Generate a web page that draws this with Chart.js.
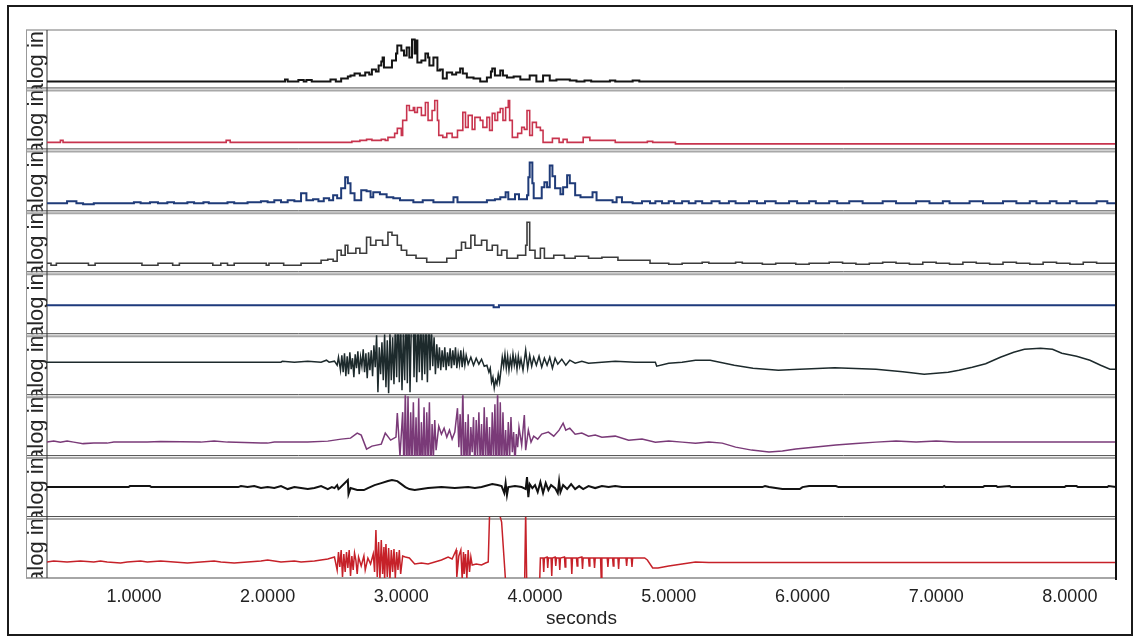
<!DOCTYPE html>
<html>
<head>
<meta charset="utf-8">
<script src="https://cdn.jsdelivr.net/npm/chart.js@4.4.1/dist/chart.umd.min.js"></script>
<style>
  html, body { margin: 0; padding: 0; background: #fff; }
  #wrap { position: relative; width: 1140px; height: 642px; }
  #frame { position: absolute; left: 7px; top: 5px; width: 1126px; height: 631px; box-sizing: border-box; border: 2px solid #1b1b1b; }
  canvas { position: absolute; left: 0; top: 0; }
</style>
</head>
<body>
<div id="wrap">
  <div id="frame"></div>
  <canvas id="traces" width="1140" height="642"></canvas>
</div>
<script>
// time axis
const timeRange = [0.35, 8.345]
const secondTicks = [1, 2, 3, 4, 5, 6, 7, 8]
const channelLabel = 'alog in'

// each channel: [seconds, amplitude above its own baseline]
const trace1 = [[0.35,0],[2.13,2],[2.15,0],[2.23,1.5],[2.27,0],[2.29,1.5],[2.33,0],[2.47,2],[2.51,0],[2.55,3],[2.6,5],[2.62,6],[2.65,8],[2.69,6],[2.73,9],[2.76,7],[2.78,12],[2.81,10],[2.83,16],[2.85,20],[2.86,24],[2.87,14],[2.9,14],[2.93,21],[2.96,28],[2.97,36],[3.0,31],[3.02,26],[3.04,34],[3.06,24],[3.08,42],[3.1,28],[3.11,41],[3.12,19],[3.15,21],[3.18,28],[3.2,24],[3.21,16],[3.24,24],[3.27,11],[3.29,12],[3.31,3],[3.34,9],[3.38,7],[3.41,9],[3.44,13],[3.46,8],[3.49,4],[3.54,3],[3.59,0],[3.64,4],[3.67,10],[3.68,13],[3.7,6],[3.74,11],[3.76,6],[3.79,4],[3.84,5],[3.89,2],[3.96,6],[4.01,0],[4.06,6],[4.11,1],[4.16,2],[4.21,2],[4.26,1],[4.31,0],[4.37,1],[4.42,0],[4.56,1],[4.6,0],[4.73,1],[4.78,0],[8.345,0]]

const trace2 = [[0.35,0],[0.45,2],[0.47,0],[1.69,2],[1.72,0],[2.63,1],[2.69,2],[2.74,3],[2.78,2],[2.85,3],[2.88,2],[2.9,5],[2.95,9],[2.97,14],[3.0,7],[3.01,22],[3.04,37],[3.06,32],[3.09,35],[3.1,30],[3.12,35],[3.15,27],[3.18,40],[3.2,22],[3.23,32],[3.25,42],[3.27,22],[3.28,7],[3.31,5],[3.34,9],[3.38,5],[3.42,12],[3.46,30],[3.48,15],[3.5,27],[3.53,13],[3.55,25],[3.59,22],[3.61,15],[3.64,25],[3.66,12],[3.68,29],[3.7,22],[3.72,30],[3.74,34],[3.76,22],[3.78,35],[3.8,42],[3.81,22],[3.83,5],[3.87,9],[3.9,15],[3.92,13],[3.94,32],[3.96,7],[3.98,20],[4.01,15],[4.04,12],[4.06,0],[4.13,4],[4.18,0],[4.21,3],[4.24,0],[4.36,5],[4.41,2],[4.6,0],[4.84,1],[4.88,0],[5.05,-1.5],[8.345,-1.5]]

const trace3 = [[0.35,0],[0.5,2],[0.57,0],[0.62,-1],[0.7,0],[1.0,1],[1.05,0],[1.12,1],[1.18,0],[1.25,1],[1.3,0],[1.4,1],[1.45,0],[1.52,1],[1.56,0],[1.7,1],[1.75,0],[1.85,1],[1.95,2],[2.0,1],[2.05,3],[2.1,1],[2.15,3],[2.2,2],[2.25,10],[2.29,3],[2.34,4],[2.38,2],[2.42,5],[2.46,3],[2.49,8],[2.52,5],[2.55,15],[2.58,26],[2.6,20],[2.62,10],[2.65,3],[2.7,13],[2.74,12],[2.77,6],[2.79,11],[2.84,9],[2.89,6],[2.94,5],[2.99,3],[3.09,1],[3.16,3],[3.24,1],[3.39,6],[3.42,1],[3.55,1],[3.64,3],[3.7,4],[3.74,6],[3.78,11],[3.8,4],[3.85,9],[3.88,4],[3.94,8],[3.95,26],[3.96,41],[3.98,20],[3.99,5],[4.05,16],[4.07,21],[4.09,16],[4.11,38],[4.13,27],[4.15,15],[4.19,9],[4.21,16],[4.24,28],[4.26,20],[4.3,8],[4.34,6],[4.41,6],[4.43,11],[4.46,3],[4.58,1],[4.61,6],[4.65,1],[4.73,0],[4.8,2],[4.86,0],[4.9,2],[4.95,0],[5.0,2],[5.04,0],[5.1,2],[5.15,0],[5.2,2],[5.25,0],[5.32,2],[5.38,0],[5.45,2],[5.5,0],[5.6,2],[5.66,0],[5.72,2],[5.8,0],[5.9,2],[5.96,0],[6.05,2],[6.1,0],[6.2,2],[6.26,0],[6.35,2],[6.45,0],[6.6,2],[6.7,0],[6.85,2],[6.95,0],[7.05,2],[7.1,0],[7.25,2],[7.35,0],[7.5,2],[7.6,0],[7.7,2],[7.75,0],[7.85,2],[7.9,0],[8.0,2],[8.05,0],[8.2,2],[8.28,0],[8.345,0]]

const trace4 = [[0.35,0],[0.38,-2],[0.42,0],[0.66,-2],[0.71,0],[1.06,-2],[1.18,0],[1.29,-2],[1.34,0],[1.59,-2],[1.65,0],[1.7,-2],[1.75,0],[1.99,-2],[2.01,0],[2.12,-2],[2.25,0],[2.4,3],[2.45,4],[2.49,2],[2.52,13],[2.55,8],[2.58,18],[2.6,10],[2.66,15],[2.69,10],[2.74,26],[2.77,18],[2.81,23],[2.86,18],[2.9,31],[2.93,28],[2.97,18],[3.0,13],[3.04,8],[3.11,5],[3.19,1],[3.34,5],[3.41,13],[3.45,21],[3.48,15],[3.52,28],[3.55,18],[3.6,23],[3.64,13],[3.68,18],[3.72,8],[3.75,13],[3.79,5],[3.87,8],[3.93,18],[3.94,41],[3.96,13],[4.0,5],[4.04,15],[4.07,5],[4.14,8],[4.22,5],[4.3,7],[4.4,5],[4.5,6],[4.62,3],[4.86,0],[5.0,-1],[5.1,0],[5.25,1],[5.3,0],[5.5,1],[5.55,0],[5.7,-1],[5.8,0],[5.95,-1],[6.05,0],[6.2,1],[6.3,0],[6.4,-1],[6.5,0],[6.6,1],[6.7,0],[6.8,-1],[6.9,1],[7.0,0],[7.1,-1],[7.2,1],[7.3,0],[7.4,-1],[7.5,1],[7.6,0],[7.7,-1],[7.8,1],[7.9,0],[8.0,-1],[8.1,1],[8.2,0],[8.345,0]]

const trace5 = [[0.35,0],[3.69,-2],[3.73,0],[8.345,0]]

const trace6 = [[0.35,0],[2.1,0],[2.11,1],[2.2,0],[2.3,1],[2.4,0],[2.44,2],[2.46,0],[2.5,1],[2.52,-3],[2.53,5],[2.545,-8],[2.555,7],[2.565,-10],[2.575,9],[2.585,-14],[2.595,6],[2.605,-12],[2.615,10],[2.625,-7],[2.635,4],[2.645,-15],[2.655,8],[2.665,-6],[2.675,11],[2.685,-12],[2.695,5],[2.705,-4],[2.715,13],[2.725,-10],[2.735,9],[2.745,-16],[2.755,10],[2.765,-8],[2.775,12],[2.785,-14],[2.795,17],[2.805,-5],[2.815,27],[2.825,-30],[2.835,15],[2.845,-12],[2.855,20],[2.865,-18],[2.875,28],[2.885,-25],[2.895,22],[2.905,-31],[2.915,29],[2.925,-18],[2.935,25],[2.945,-22],[2.955,35],[2.965,-15],[2.975,55],[2.985,-20],[2.995,42],[3.005,-28],[3.015,30],[3.025,-18],[3.035,57],[3.045,-21],[3.055,64],[3.065,-30],[3.075,40],[3.085,77],[3.095,-15],[3.105,49],[3.115,-20],[3.125,38],[3.135,-10],[3.145,50],[3.155,-18],[3.165,44],[3.175,-12],[3.185,40],[3.195,-20],[3.205,50],[3.215,-8],[3.225,35],[3.235,-4],[3.245,25],[3.255,-12],[3.265,18],[3.275,-6],[3.285,15],[3.295,-8],[3.305,12],[3.315,-5],[3.325,15],[3.335,-8],[3.345,10],[3.355,-4],[3.365,14],[3.375,-6],[3.385,12],[3.395,-3],[3.405,15],[3.415,-6],[3.425,8],[3.435,-2],[3.445,12],[3.455,-5],[3.465,9],[3.475,-3],[3.485,7],[3.5,-2],[3.52,5],[3.54,-3],[3.56,4],[3.58,-2],[3.6,3],[3.62,-4],[3.64,-3],[3.655,-10],[3.665,-6],[3.675,-20],[3.685,-15],[3.695,-26],[3.705,-18],[3.715,-22],[3.725,-12],[3.735,-20],[3.745,-8],[3.755,5],[3.765,-4],[3.775,8],[3.785,-6],[3.795,6],[3.805,-8],[3.815,4],[3.825,-5],[3.835,8],[3.845,-3],[3.855,5],[3.865,-7],[3.875,6],[3.885,-4],[3.895,3],[3.91,-8],[3.93,12],[3.945,-6],[3.96,7],[3.975,-4],[3.99,5],[4.01,-3],[4.03,6],[4.05,-5],[4.07,4],[4.09,-3],[4.11,5],[4.13,-6],[4.15,4],[4.17,-2],[4.2,3],[4.23,-3],[4.26,2],[4.3,-1],[4.35,1],[4.4,-1],[4.5,0],[4.6,1],[4.75,0],[4.9,0],[4.91,-4],[5.0,-1],[5.1,0],[5.2,2],[5.31,2],[5.49,-3],[5.63,-6],[5.82,-8],[5.98,-7],[6.24,-5.5],[6.55,-7],[6.75,-9.5],[6.91,-12],[7.09,-10],[7.17,-8],[7.27,-5],[7.37,-1.5],[7.48,5],[7.58,10],[7.66,13],[7.78,14],[7.87,13],[7.94,9],[8.05,6],[8.15,2],[8.23,-3],[8.3,-7],[8.345,-7]]

const trace7 = [[0.35,0],[0.4,1],[0.45,0],[0.5,1],[0.55,0],[0.62,-1.5],[0.7,-1],[0.8,-1],[0.85,0],[1.1,0],[1.2,0.5],[1.5,0],[1.6,1],[1.7,0],[1.95,-1],[2.0,-1],[2.05,0],[2.3,0],[2.45,1],[2.55,3],[2.62,4],[2.67,9],[2.7,7],[2.74,-7],[2.78,-4],[2.85,-2],[2.88,9],[2.92,2],[2.96,5],[2.97,29],[2.99,-14],[3.01,30],[3.02,-28],[3.03,52],[3.04,-40],[3.05,46],[3.06,-43],[3.07,30],[3.08,-20],[3.09,40],[3.1,-30],[3.11,25],[3.12,-35],[3.13,44],[3.14,-43],[3.15,20],[3.16,-25],[3.17,35],[3.18,-38],[3.19,30],[3.2,-20],[3.21,40],[3.22,-42],[3.23,18],[3.24,-15],[3.25,22],[3.26,-8],[3.28,16],[3.3,8],[3.32,14],[3.34,5],[3.36,12],[3.38,3],[3.4,10],[3.42,34],[3.43,-5],[3.44,28],[3.45,-20],[3.46,54],[3.47,-35],[3.48,20],[3.49,-25],[3.5,28],[3.51,-30],[3.52,15],[3.53,-10],[3.54,25],[3.55,-28],[3.56,22],[3.57,-15],[3.58,30],[3.59,-22],[3.6,18],[3.61,-30],[3.62,35],[3.63,-20],[3.64,25],[3.65,-25],[3.66,15],[3.67,-35],[3.68,30],[3.69,-18],[3.7,38],[3.71,-40],[3.72,52],[3.73,-43],[3.74,40],[3.75,-30],[3.76,30],[3.77,-20],[3.78,12],[3.79,-25],[3.8,20],[3.81,-15],[3.82,25],[3.83,-10],[3.84,10],[3.85,-23],[3.86,8],[3.87,-5],[3.88,15],[3.9,-3],[3.92,27],[3.93,-8],[3.95,12],[3.97,0],[3.99,6],[4.02,3],[4.05,8],[4.1,10],[4.14,6],[4.18,12],[4.21,19],[4.23,12],[4.26,14],[4.3,8],[4.35,9],[4.4,6],[4.45,7],[4.5,5],[4.6,6],[4.7,2],[4.8,3],[4.9,0],[5.0,1],[5.1,0],[5.2,-1],[5.3,0],[5.4,-1],[5.5,-5],[5.62,-8],[5.75,-10],[5.85,-9],[5.95,-7],[6.1,-5],[6.25,-3],[6.4,-1.5],[6.55,0],[6.7,1],[6.85,0],[7.0,1],[7.15,0],[8.345,0]]

const trace8 = [[0.35,0],[0.96,0],[0.97,1],[1.12,1],[1.13,0],[1.78,0],[1.8,1],[1.85,0],[1.9,1],[1.95,-1],[2.0,0],[2.05,-1],[2.1,1],[2.15,-2],[2.2,0],[2.25,-1],[2.3,-2],[2.35,-1],[2.4,1],[2.45,-2],[2.48,0],[2.5,-1],[2.52,2],[2.53,-2],[2.54,-1],[2.6,7],[2.605,-7],[2.62,-1],[2.67,-3],[2.72,-3],[2.75,-1],[2.8,2],[2.85,4],[2.9,6],[2.93,7],[2.97,6],[3.0,3],[3.03,0],[3.06,-2],[3.1,-3],[3.15,-2],[3.2,-1],[3.3,0],[3.4,-1],[3.5,0],[3.55,-1],[3.6,0],[3.68,3],[3.72,2],[3.75,1],[3.77,-6],[3.78,4],[3.79,-8],[3.8,0],[3.85,1],[3.9,0],[3.93,-2],[3.94,10],[3.95,-10],[3.96,3],[3.98,-1],[4.0,2],[4.02,-5],[4.04,5],[4.06,-6],[4.08,4],[4.1,-3],[4.12,2],[4.15,-1],[4.17,-6],[4.18,6],[4.19,-5],[4.21,2],[4.24,-2],[4.27,3],[4.3,-2],[4.33,1],[4.36,-2],[4.4,1],[4.45,-1],[4.5,1],[4.55,0],[4.6,1],[4.65,0],[5.7,0],[5.72,1],[5.75,0],[5.85,-2],[5.98,-2],[6.0,0],[6.05,1],[6.25,1],[6.27,0],[7.05,0],[7.06,1],[7.07,0],[7.35,0],[7.36,1],[7.45,1],[7.46,0],[7.55,1],[7.56,0],[7.96,0],[7.97,1],[8.05,1],[8.06,0],[8.28,0],[8.29,1],[8.345,0]]

const trace9 = [[0.35,0],[0.4,1],[0.5,0],[0.6,1],[0.7,0],[0.75,1],[0.8,0],[0.9,-1],[0.95,0],[1.05,1],[1.1,0],[1.2,1],[1.3,0],[1.4,-1],[1.5,0],[1.6,1],[1.65,0],[1.75,-1],[1.85,0],[1.95,1],[2.0,2],[2.05,1],[2.1,0],[2.2,1],[2.25,0],[2.35,1],[2.4,2],[2.45,3],[2.5,5],[2.52,-8],[2.53,10],[2.54,-5],[2.55,12],[2.56,-15],[2.57,8],[2.58,-10],[2.59,10],[2.6,-6],[2.61,12],[2.62,-14],[2.63,6],[2.64,-8],[2.65,9],[2.66,2],[2.67,-12],[2.68,5],[2.7,-4],[2.72,6],[2.73,-8],[2.75,4],[2.77,-2],[2.79,8],[2.8,-10],[2.81,32],[2.82,-15],[2.83,20],[2.84,-17],[2.85,22],[2.86,-12],[2.87,15],[2.875,-17],[2.885,18],[2.895,-15],[2.905,14],[2.915,-17],[2.925,12],[2.935,-10],[2.945,13],[2.955,-16],[2.965,10],[2.975,-8],[2.985,12],[2.995,-12],[3.01,6],[3.03,5],[3.06,4],[3.1,-2],[3.15,-1],[3.2,-2],[3.25,0],[3.3,2],[3.35,5],[3.38,3],[3.41,12],[3.415,-15],[3.43,6],[3.445,12],[3.455,-17],[3.465,10],[3.47,-12],[3.48,8],[3.49,-16],[3.5,12],[3.51,-10],[3.52,5],[3.53,-3],[3.56,-2],[3.6,-3],[3.63,-1],[3.65,0],[3.66,48],[3.67,50],[3.73,50],[3.75,40],[3.77,0],[3.79,-40],[3.92,-40],[3.93,50],[3.94,-40],[4.03,-40],[4.04,4],[4.06,4],[4.065,-10],[4.07,4],[4.09,5],[4.095,-6],[4.1,4],[4.12,4],[4.125,-14],[4.13,4],[4.15,5],[4.155,-4],[4.16,4],[4.18,4],[4.185,-8],[4.19,4],[4.22,5],[4.225,-5],[4.23,4],[4.27,4],[4.275,-12],[4.28,4],[4.31,4],[4.315,-4],[4.32,4],[4.35,5],[4.355,-7],[4.36,4],[4.4,4],[4.405,-4],[4.41,4],[4.44,4],[4.445,-6],[4.45,4],[4.49,4],[4.495,-17],[4.5,4],[4.54,4],[4.545,-5],[4.55,4],[4.58,4],[4.585,-4],[4.59,4],[4.62,4],[4.625,-7],[4.63,4],[4.68,4],[4.685,-4],[4.69,4],[4.72,4],[4.725,-5],[4.73,4],[4.78,4],[4.82,4],[4.84,2],[4.88,-6],[4.92,-6],[5.0,-4],[5.1,-2],[5.2,0],[5.3,-0.5],[8.345,-0.5]]

const traces = [trace1, trace2, trace3, trace4, trace5, trace6, trace7, trace8, trace9]
const traceColors = ['#141414', '#c8344e', '#1f3b78', '#3c3c3c', '#1e3a7c', '#1d2a2c', '#7a3a78', '#121212', '#c62129']
const traceWidths = [2, 1.6, 2, 1.6, 2, 1.5, 1.5, 2, 1.5]
const sampleHold = [true, true, true, true, true, false, false, false, false]

// one stacked axis per channel, amplitude range below/above the baseline
const panels = [
  { id: 'p1', min: -7, max: 51.5 },
  { id: 'p2', min: -7, max: 54 },
  { id: 'p3', min: -8, max: 54 },
  { id: 'p4', min: -9, max: 52 },
  { id: 'p5', min: -29, max: 33 },
  { id: 'p6', min: -33, max: 28 },
  { id: 'p7', min: -14, max: 47 },
  { id: 'p8', min: -30, max: 31 },
  { id: 'p9', min: -16, max: 45 },
]

const FONT = '"Liberation Sans", Arial, sans-serif'

const line = (ctx, x1, y1, x2, y2, color, width) => {
  ctx.beginPath()
  ctx.strokeStyle = color
  ctx.lineWidth = width
  ctx.moveTo(x1, y1)
  ctx.lineTo(x2, y2)
  ctx.stroke()
}

// channel labels and the double separator rules between panels
const panelFrame = {
  id: 'panelFrame',
  beforeDatasetsDraw(chart) {
    const { ctx, chartArea: a } = chart
    const stripLeft = a.left - 21
    const axes = panels.map(p => chart.scales[p.id])
    ctx.save()
    ctx.fillStyle = '#262626'
    ctx.font = '22px ' + FONT
    ctx.textAlign = 'right'
    ctx.textBaseline = 'alphabetic'
    axes.forEach(s => {
      ctx.save()
      ctx.beginPath()
      ctx.rect(stripLeft, s.top, a.left - stripLeft, s.bottom - s.top)
      ctx.clip()
      ctx.translate(a.left - 4, s.top + 1)
      ctx.rotate(-Math.PI / 2)
      ctx.fillText(channelLabel, 0, 0)
      ctx.restore()
    })
    line(ctx, stripLeft, a.top, a.right, a.top, '#777', 1.2)
    axes.slice(1).forEach(s => {
      line(ctx, stripLeft, s.top - 0.5, a.right, s.top - 0.5, '#4a4a4a', 1)
      line(ctx, stripLeft, s.top + 2, a.right, s.top + 2, '#a8a8a8', 2)
    })
    line(ctx, stripLeft, a.bottom, a.right, a.bottom, '#888', 1.5)
    line(ctx, stripLeft + 0.5, a.top, stripLeft + 0.5, a.bottom, '#999', 1)
    line(ctx, a.left, a.top, a.left, a.bottom, '#333', 1)
    ctx.restore()
  },
  afterDraw(chart) {
    const { ctx, chartArea: a } = chart
    ctx.save()
    line(ctx, a.right, a.top, a.right, a.bottom + 2, '#111', 2)
    ctx.restore()
  }
}

const scales = {
  x: {
    type: 'linear',
    min: timeRange[0],
    max: timeRange[1],
    afterBuildTicks: s => { s.ticks = secondTicks.map(v => ({ value: v })) },
    afterFit: s => { s.height = 64 },
    grid: { display: false, drawTicks: false },
    border: { display: false },
    ticks: {
      padding: 8,
      color: '#222',
      maxRotation: 0,
      font: { size: 18, family: FONT },
      callback: v => Number(v).toFixed(4),
    },
    title: {
      display: true,
      text: 'seconds',
      color: '#222',
      font: { size: 19, family: FONT },
      padding: { top: 0, bottom: 12 },
    },
  },
}

panels.forEach((p, i) => {
  scales[p.id] = {
    type: 'linear',
    position: 'left',
    stack: 'channels',
    stackWeight: p.max - p.min,
    weight: panels.length - i,
    min: p.min,
    max: p.max,
    offset: false,
    grid: { display: false, drawTicks: false },
    border: { display: false },
    ticks: { display: false },
    title: { display: false },
  }
})

const datasets = traces.map((trace, i) => ({
  label: 'ch' + (i + 1),
  data: trace.map(([t, v]) => ({ x: t, y: v })),
  yAxisID: panels[i].id,
  borderColor: traceColors[i],
  borderWidth: traceWidths[i],
  stepped: sampleHold[i],
  pointRadius: 0,
  tension: 0,
  fill: false,
}))

new Chart(document.getElementById('traces'), {
  type: 'line',
  data: { datasets },
  options: {
    responsive: false,
    animation: false,
    parsing: false,
    normalized: true,
    layout: { padding: { left: 47, right: 24, top: 30, bottom: 0 } },
    plugins: { legend: { display: false }, tooltip: { enabled: false } },
    scales,
  },
  plugins: [panelFrame],
})
</script>
</body>
</html>
